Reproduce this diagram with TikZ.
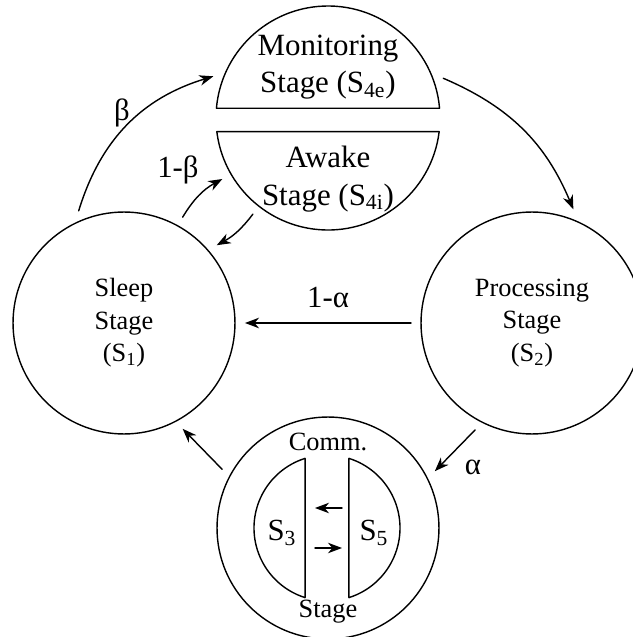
\documentclass[tikz,border=0pt]{standalone}
\usepackage{fontspec}
\setmainfont{Liberation Serif}
\usetikzlibrary{arrows.meta}
\begin{document}
\begin{tikzpicture}[x=0.02cm, y=0.02cm, line width=0.8pt, line join=round, line cap=round, >={Stealth[length=8pt, width=6pt, inset=2.5pt]},
  stagenode/.style={circle, draw, minimum size=4.44cm, inner sep=0pt, outer sep=0.2cm, align=center, font=\fontsize{15}{18.5}\selectfont},
  toptext/.style={align=center, font=\fontsize{17.6}{21.5}\selectfont},
  lbl/.style={font=\fontsize{17.5}{20}\selectfont}]
\def\R{112}
\def\r{73}
\useasboundingbox (0,0) rectangle (633,637);
% stages
\node[stagenode] (sleep) at (124,314) {Sleep\\Stage\\(S\textsubscript{1})};
\node[stagenode] (proc) at (532,314) {Processing\\Stage\\(S\textsubscript{2})};
\node[stagenode] (comm) at (328,109) {};
\node[stagenode, draw=none, minimum size=4.48cm] (wake) at (328,519) {};
% split top circle
\draw ([shift={(5:\R)}]wake.center) arc[start angle=5, end angle=175, radius=\R] -- cycle;
\draw ([shift={(-7:\R)}]wake.center) arc[start angle=-7, end angle=-173, radius=\R] -- cycle;
\node[toptext] (moni) at (328,570) {Monitoring\\Stage (S\textsubscript{4e})};
\node[toptext] (awake) at (328,458) {Awake\\Stage (S\textsubscript{4i})};
% comm stage
\node[circle, minimum size=2.92cm, inner sep=0pt] (inner) at (327,109) {};
\draw ([shift={(107.5:\r)}]inner.center) arc[start angle=107.5, end angle=252.5, radius=\r] -- cycle;
\draw ([shift={(72.5:\r)}]inner.center) arc[start angle=72.5, end angle=-72.5, radius=\r] -- cycle;
\node[lbl] (s3) at (282,104) {S\textsubscript{3}};
\node[lbl] (s5) at (374,104) {S\textsubscript{5}};
\node[font=\fontsize{15}{18.5}\selectfont] (commtxt) at (328,195) {Comm.};
\node[font=\fontsize{15}{18.5}\selectfont] (stagetxt) at (328,25) {Stage};
\draw[->] ([shift={(15,20)}]inner.center) -- ([shift={(-12,20)}]inner.center);
\draw[->] ([shift={(-12,-20)}]inner.center) -- ([shift={(15,-20)}]inner.center);
% transitions
\draw[->] (sleep.112) to[bend left=28] (wake.160);
\draw[->] (sleep.61) to[bend left=15] (wake.210);
\draw[->] (wake.232) to[bend left=12] (sleep.40);
\draw[->] (wake.19) to[bend left=22] (proc.70);
\draw[->] (proc.180) -- (sleep.0);
\draw[->] (proc.242) -- (comm.28);
\draw[->] (comm.151) -- (sleep.-61);
\node[lbl] (lb) at (122,524) {β};
\node[lbl] (lb1) at (178,467) {1-β};
\node[lbl] (la1) at (328,339) {1-α};
\node[lbl] (la) at (473,170) {α};
\end{tikzpicture}
\end{document}
